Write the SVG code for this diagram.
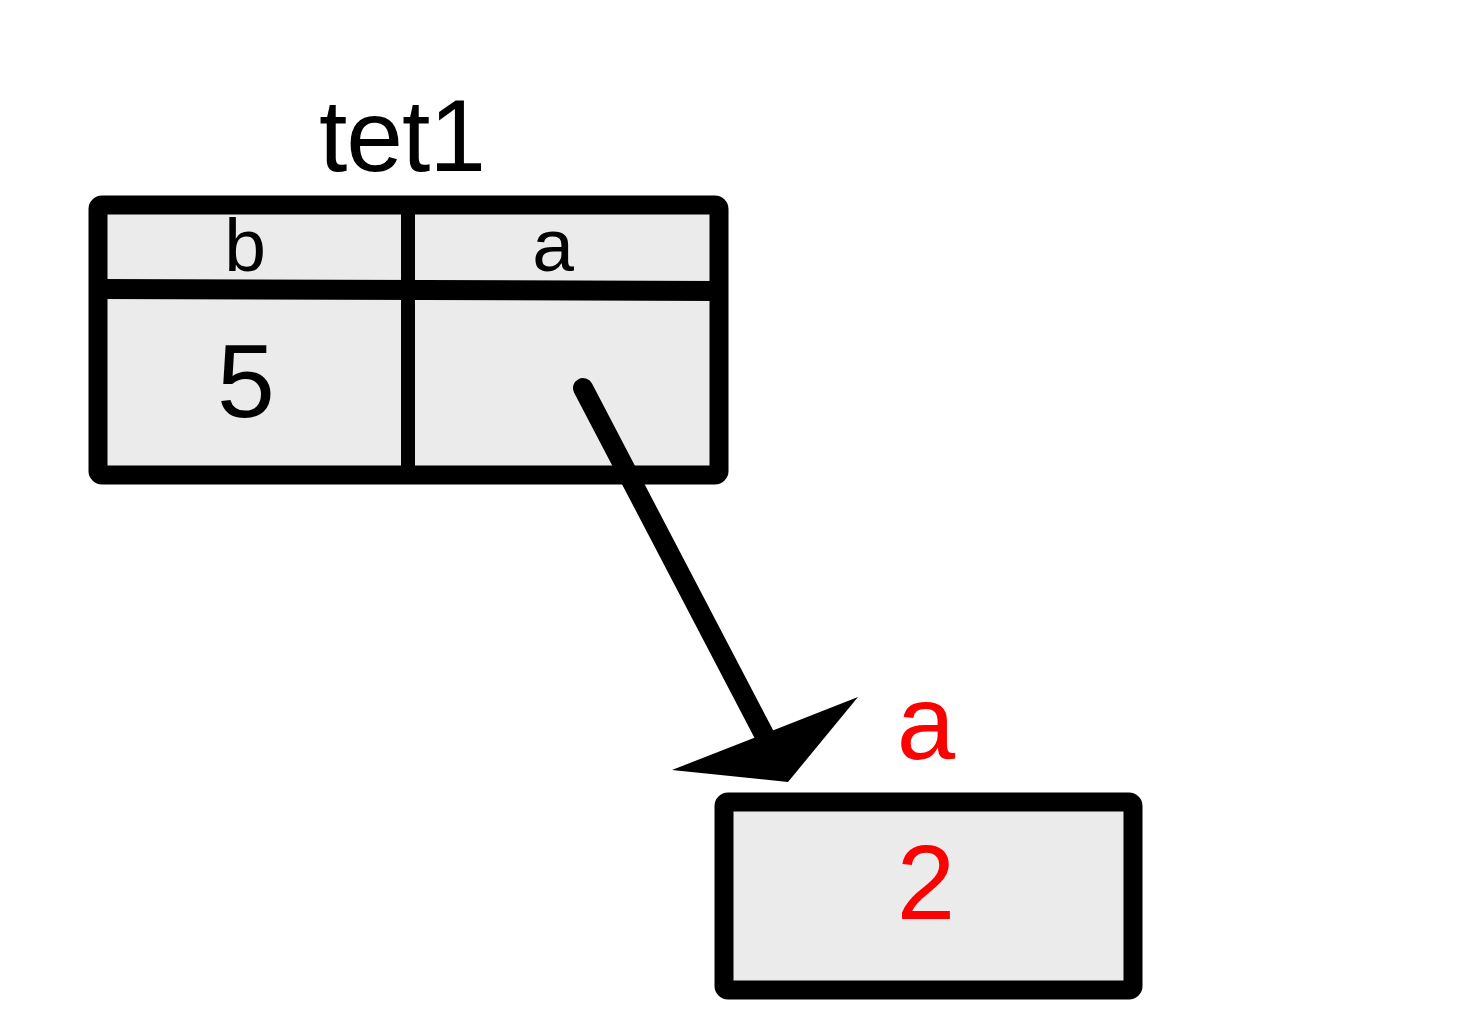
<svg xmlns="http://www.w3.org/2000/svg" width="1461" height="1024" viewBox="0 0 1461 1024">
<style>
.box{fill:#ebebeb;stroke:#000;stroke-width:19;stroke-linejoin:round}
.t{font-family:"Liberation Sans",Arial,sans-serif;text-anchor:middle}
</style>
<rect width="1461" height="1024" fill="#fff"/>
<g id="tet1">
<text class="t" x="402" y="171" font-size="102" letter-spacing="-1">tet1</text>
<rect class="box" x="98" y="205" width="621" height="270" rx="4"/>
<line x1="98" y1="289" x2="719" y2="291" stroke="#000" stroke-width="20"/>
<line x1="408" y1="205" x2="408" y2="475" stroke="#000" stroke-width="14"/>
<text class="t" x="245" y="271" font-size="75">b</text>
<text class="t" x="553" y="271" font-size="75">a</text>
<text class="t" x="246" y="417" font-size="104">5</text>
</g>
<g id="a">
<text class="t" x="926" y="759" font-size="105" fill="#ff0000">a</text>
<rect class="box" x="724" y="802" width="409" height="188" rx="4" stroke-width="20"/>
<text class="t" x="926" y="919" font-size="105" fill="#ff0000">2</text>
</g>
<g id="connectors">
<line x1="583" y1="388" x2="768" y2="742" stroke="#000" stroke-width="20" stroke-linecap="round"/>
<polygon points="672,770 858,697 788,782" fill="#000"/>
</g>
</svg>
